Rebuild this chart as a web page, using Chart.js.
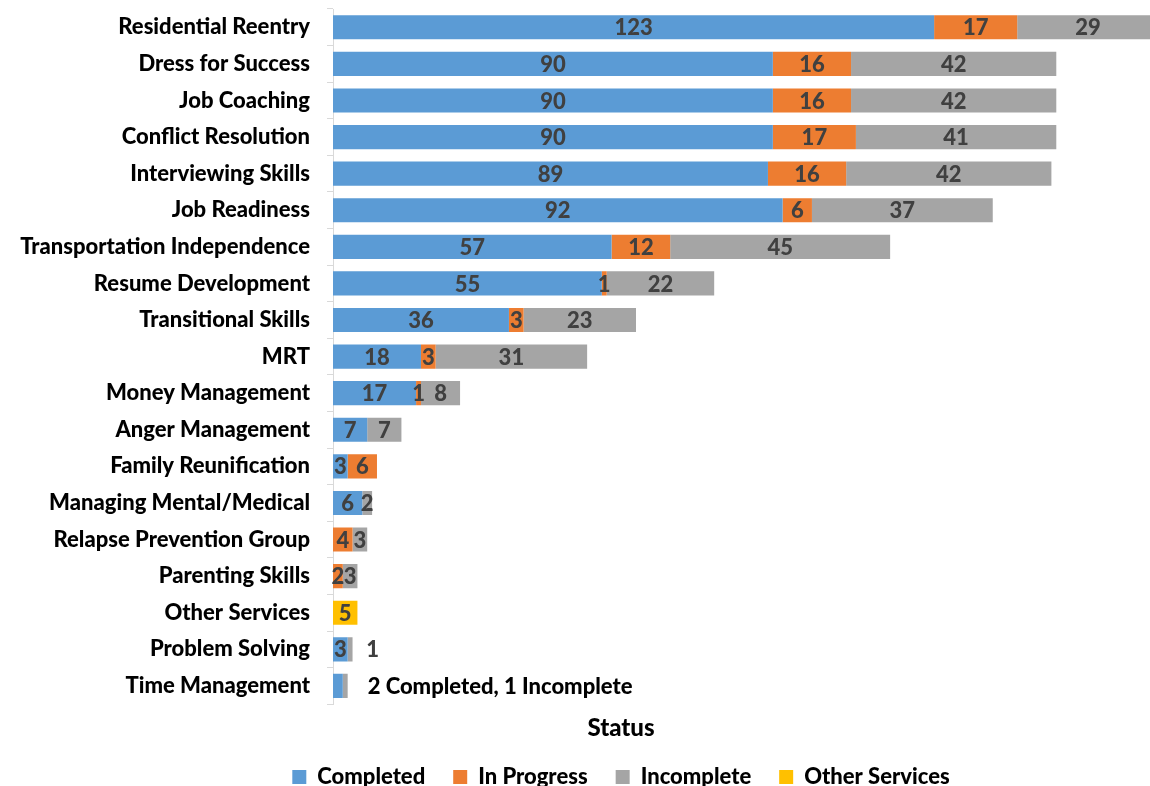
<!DOCTYPE html>
<html>
<head>
<meta charset="utf-8">
<script src="https://cdn.jsdelivr.net/npm/chart.js@4"></script>
<style>
  html, body { margin: 0; padding: 0; background: #fff; overflow: hidden; }
  #frame { width: 1150px; height: 786px; overflow: hidden; position: relative; }
  #wrap { width: 1242px; height: 798px; position: absolute; left: 0; top: 0; }
</style>
</head>
<body>
<div id="frame"><div id="wrap"><canvas id="myChart"></canvas></div></div>
<script>
// program names, top to bottom
const programs = [
    'Residential Reentry', 'Dress for Success', 'Job Coaching', 'Conflict Resolution',
    'Interviewing Skills', 'Job Readiness', 'Transportation Independence', 'Resume Development',
    'Transitional Skills', 'MRT', 'Money Management', 'Anger Management',
    'Family Reunification', 'Managing Mental/Medical', 'Relapse Prevention Group',
    'Parenting Skills', 'Other Services', 'Problem Solving', 'Time Management'
];

const completed     = [123, 90, 90, 90, 89, 92, 57, 55, 36, 18, 17, 7, 3, 6, 0, 0, 0, 3, 2];
const inProgress    = [17, 16, 16, 17, 16, 6, 12, 1, 3, 3, 1, 0, 6, 0, 4, 2, 0, 0, 0];
const incomplete    = [29, 42, 42, 41, 42, 37, 45, 22, 23, 31, 8, 7, 0, 2, 3, 3, 0, 1, 1];
const otherServices = [0, 0, 0, 0, 0, 0, 0, 0, 0, 0, 0, 0, 0, 0, 0, 0, 5, 0, 0];

const timeMgmtNote = '2 Completed, 1 Incomplete';

const FONT = 'Lato, Carlito, "Open Sans", sans-serif';

// draws the numbers inside each segment
const segmentLabels = {
    id: 'segmentLabels',
    afterDatasetsDraw(chart) {
        const ctx = chart.ctx;
        ctx.save();
        ctx.font = `900 22px ${FONT}`;
        ctx.textAlign = 'center';
        ctx.textBaseline = 'middle';
        ctx.fillStyle = '#404040';
        chart.data.datasets.forEach((ds, di) => {
            const meta = chart.getDatasetMeta(di);
            meta.data.forEach((bar, i) => {
                const v = ds.data[i];
                const name = programs[i];
                if (!v || name === 'Time Management') return;
                let x = (bar.x + bar.base) / 2;
                if (name === 'Problem Solving' && ds.label === 'Incomplete') x = bar.x + 20;
                ctx.fillText(String(v), x, bar.y + 1);
            });
        });
        // note beside the last bar
        const last = programs.length - 1;
        const lastBar = chart.getDatasetMeta(2).data[last];
        ctx.textAlign = 'left';
        ctx.fillStyle = '#000';
        ctx.fillText(timeMgmtNote, lastBar.x + 20, lastBar.y + 1);
        ctx.restore();
    }
};

const colors = ['#5B9BD5', '#ED7D31', '#A5A5A5', '#FFC000'];
const seriesNames = ['Completed', 'In Progress', 'Incomplete', 'Other Services'];
const seriesData = [completed, inProgress, incomplete, otherServices];

new Chart(document.getElementById('myChart'), {
    type: 'bar',
    data: {
        labels: programs,
        datasets: seriesData.map((d, i) => ({
            label: seriesNames[i],
            data: d,
            backgroundColor: colors[i],
            borderWidth: 0,
            categoryPercentage: 1,
            barPercentage: 0.66
        }))
    },
    plugins: [segmentLabels],
    options: {
        indexAxis: 'y',
        responsive: true,
        maintainAspectRatio: false,
        animation: false,
        layout: { padding: { top: 9, right: 0, left: 0, bottom: 0 } },
        plugins: {
            title: {
                display: true,
                text: 'Status',
                position: 'bottom',
                weight: 500,
                color: '#000',
                font: { family: FONT, size: 24, weight: '900', lineHeight: 0.7 },
                padding: { top: 16, bottom: 1 }
            },
            legend: {
                position: 'bottom',
                labels: {
                    boxWidth: 14,
                    boxHeight: 14,
                    padding: 28,
                    color: '#000',
                    font: { family: FONT, size: 22, weight: '900' }
                }
            },
            tooltip: { enabled: false }
        },
        scales: {
            x: {
                display: false,
                stacked: true,
                min: 0,
                max: 186
            },
            y: {
                stacked: true,
                afterFit(scale) {
                    scale.width = 333;
                    scale.paddingTop = 0;
                    scale.paddingBottom = 0;
                },
                ticks: {
                    color: '#000',
                    padding: 17,
                    font: { family: FONT, size: 22, weight: '900' }
                },
                grid: {
                    offset: true,
                    drawOnChartArea: false,
                    tickLength: 6,
                    color: '#D9D9D9'
                },
                border: { color: '#D9D9D9' }
            }
        }
    }
});
</script>
</body>
</html>
